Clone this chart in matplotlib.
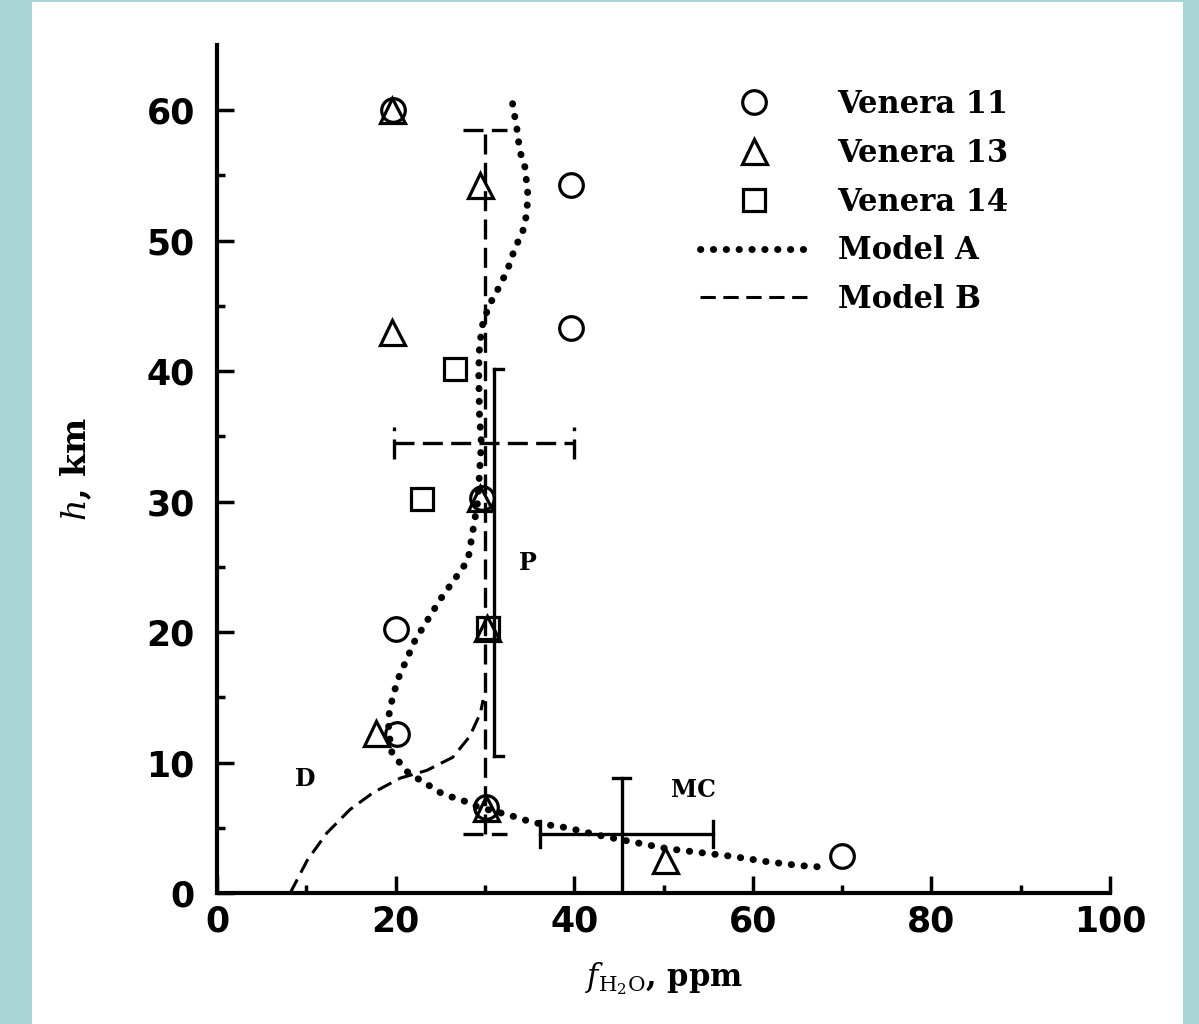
import matplotlib
matplotlib.use("Agg")
import matplotlib.pyplot as plt
from matplotlib.patches import Rectangle
from matplotlib.ticker import MultipleLocator

# Venera 11 (circles)
v11_f = [19.7, 39.6, 39.6, 29.7, 20.0, 20.2, 30.1, 70.0]
v11_h = [60.0, 54.3, 43.3, 30.3, 20.2, 12.2, 6.6, 2.8]
# Venera 13 (triangles)
v13_f = [19.6, 29.5, 19.6, 29.5, 30.2, 17.8, 30.1, 50.2]
v13_h = [60.0, 54.3, 43.0, 30.3, 20.3, 12.3, 6.5, 2.5]
# Venera 14 (squares)
v14_f = [26.7, 23.0, 30.3]
v14_h = [40.2, 30.2, 20.3]

# Model A (dotted)
modA_f = [33.1, 33.6, 33.9, 34.5, 34.8, 34.7, 34.2, 33.4, 32.5, 31.4, 30.6, 29.8, 29.4,
          29.3, 29.4, 29.6, 29.2, 28.1, 25.0, 22.2, 20.2, 19.3, 19.2, 19.6, 21.3, 22.4,
          23.6, 25.0, 26.1, 27.5, 29.2, 30.8, 32.6, 35.4, 39.2, 42.9, 47.4, 50.4, 54.1,
          57.8, 61.6, 65.3, 67.5]
modA_h = [60.5, 58.5, 56.9, 55.6, 53.6, 52.1, 50.6, 49.5, 47.7, 46.2, 45.2, 43.8, 42.0,
          40.0, 36.5, 34.5, 30.0, 25.5, 22.5, 19.4, 16.3, 14.0, 12.5, 10.7, 9.3, 8.8,
          8.3, 7.7, 7.4, 7.1, 6.6, 6.3, 6.0, 5.4, 5.0, 4.4, 3.8, 3.4, 3.1,
          2.8, 2.4, 2.1, 2.0]
# Model B (dashed)
modB_f = [8.2, 10.1, 12.3, 14.9, 17.5, 20.5, 23.5, 26.4, 28.3, 29.5, 29.8]
modB_h = [0.0, 2.5, 4.6, 6.4, 7.7, 8.8, 9.4, 10.4, 12.0, 13.8, 14.8]

# error bars: centre, x range, h range
err_dash = dict(f=30.0, h=34.5, f_lo=19.8, f_hi=40.0, h_lo=4.5, h_hi=58.5)
err_p = dict(f=31.0, h_lo=10.5, h_hi=40.2)
err_mc = dict(f=45.3, h=4.5, f_lo=36.2, f_hi=55.5, h_lo=0.0, h_hi=8.8)

labels = ["Venera 11", "Venera 13", "Venera 14", "Model A", "Model B"]

plt.rcParams["mathtext.fontset"] = "dejavuserif"
serif = ["DejaVu Serif"]
sans = ["Liberation Sans Narrow", "DejaVu Sans"]

fig = plt.figure(figsize=(11.99, 10.24), dpi=100, facecolor="#a8d4d4")
fig.patches.append(Rectangle((32 / 1199, 0), (1183 - 32) / 1199, 1.0 - 2 / 1024,
                             transform=fig.transFigure, facecolor="white",
                             edgecolor="none", zorder=-10))
ax = fig.add_axes([217 / 1199, 131 / 1024, 893 / 1199, 848 / 1024])
ax.set_facecolor("none")

dot_ls = (0, (0.05, 1.8))
lA, = ax.plot(modA_f, modA_h, color="black", lw=5, linestyle=dot_ls,
              dash_capstyle="round")
lB, = ax.plot(modB_f, modB_h, color="black", lw=2.2, linestyle=(0, (5, 2.5)))

# dashed error cross
ek = dict(color="black", lw=2.4, linestyle=(0, (6, 2.5)))
ax.plot([err_dash["f"], err_dash["f"]], [err_dash["h_lo"], err_dash["h_hi"]], **ek)
ax.plot([err_dash["f_lo"], err_dash["f_hi"]], [err_dash["h"], err_dash["h"]], **ek)
for hh in (err_dash["h_lo"], err_dash["h_hi"]):
    ax.plot([err_dash["f"] - 2.5, err_dash["f"] + 2.5], [hh, hh], **ek)
for ff in (err_dash["f_lo"], err_dash["f_hi"]):
    ax.plot([ff, ff], [err_dash["h"] - 1.2, err_dash["h"] + 1.2], **ek)

# P error bar (solid)
sk = dict(color="black", lw=2.4)
ax.plot([err_p["f"], err_p["f"]], [err_p["h_lo"], err_p["h_hi"]], **sk)
for hh in (err_p["h_lo"], err_p["h_hi"]):
    ax.plot([err_p["f"], err_p["f"] + 1.0], [hh, hh], **sk)

# MC error cross (solid)
ax.plot([err_mc["f"], err_mc["f"]], [err_mc["h_lo"], err_mc["h_hi"]], **sk)
ax.plot([err_mc["f_lo"], err_mc["f_hi"]], [err_mc["h"], err_mc["h"]], **sk)
ax.plot([err_mc["f"] - 1.0, err_mc["f"] + 1.0], [err_mc["h_hi"]] * 2, **sk)
for ff in (err_mc["f_lo"], err_mc["f_hi"]):
    ax.plot([ff, ff], [err_mc["h"] - 1.0, err_mc["h"] + 1.0], **sk)

mk = dict(linestyle="none", mfc="none", mec="black", mew=2.3, clip_on=False, zorder=5)
p11, = ax.plot(v11_f, v11_h, marker="o", ms=17, **mk)
p13, = ax.plot(v13_f, v13_h, marker="^", ms=18, **mk)
p14, = ax.plot(v14_f, v14_h, marker="s", ms=16, **mk)

ax.text(9.9, 8.7, "D", family=serif, weight="bold", fontsize=17, ha="center", va="center")
ax.text(34.8, 25.3, "P", family=serif, weight="bold", fontsize=17, ha="center", va="center")
ax.text(53.3, 7.9, "MC", family=serif, weight="bold", fontsize=17, ha="center", va="center")

ax.set_xlim(0, 100)
ax.set_ylim(0, 65)
for s in ("top", "right"):
    ax.spines[s].set_visible(False)
for s in ("left", "bottom"):
    ax.spines[s].set_linewidth(3)

ax.xaxis.set_major_locator(MultipleLocator(20))
ax.xaxis.set_minor_locator(MultipleLocator(10))
ax.set_yticks([0, 10, 20, 30, 40, 50, 60])
ax.set_yticks([5, 15, 25, 35, 45, 55], minor=True)
ax.tick_params(which="major", direction="in", length=12, width=2.5)
ax.tick_params(which="minor", direction="in", length=6, width=2.5)
ax.tick_params(axis="y", which="major", pad=16)
ax.tick_params(axis="x", which="major", pad=8)
for lab in ax.get_xticklabels() + ax.get_yticklabels():
    lab.set_family(sans)
    lab.set_weight("bold")
    lab.set_fontsize(25)

ax.set_xlabel(r"$f_{\mathrm{H_2O}}$, ppm", family=serif, weight="bold",
              fontsize=22, labelpad=16)
ax.set_ylabel(r"$h$, km", family=serif, weight="bold", fontsize=24, labelpad=38)

leg = ax.legend([p11, p13, p14, lA, lB], labels, loc="upper left",
                bbox_to_anchor=(0.541, 0.948), frameon=False,
                prop=dict(family=serif, weight="bold", size=22),
                handlelength=3.5, handletextpad=1.0, labelspacing=0.58,
                borderpad=0, borderaxespad=0, numpoints=1)

fig.savefig("out.png", dpi=100, facecolor=fig.get_facecolor())
